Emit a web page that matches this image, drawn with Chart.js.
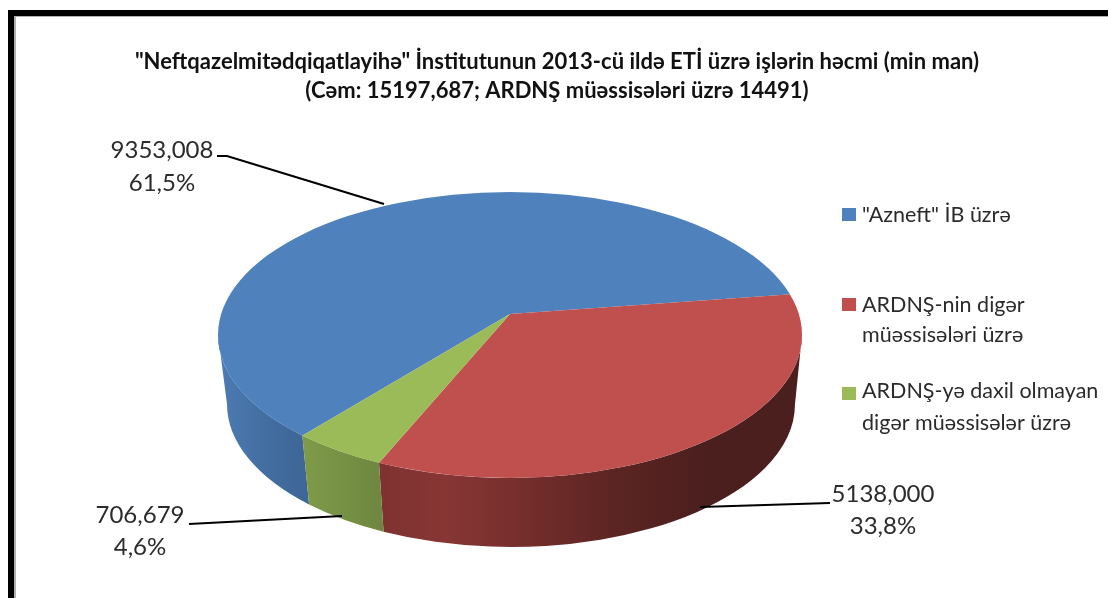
<!DOCTYPE html>
<html>
<head>
<meta charset="utf-8">
<style>
  html, body { margin: 0; padding: 0; background: #fff; }
  #wrap { width: 1108px; height: 598px; position: relative; }
  canvas { filter: blur(0.4px); }
</style>
<script src="https://cdn.jsdelivr.net/npm/chart.js@4"></script>
</head>
<body>
<div id="wrap"><canvas id="pieChart"></canvas></div>
<script>
var categories = ['"Azneft" İB üzrə', 'ARDNŞ-nin digər müəssisələri üzrə', 'ARDNŞ-yə daxil olmayan digər müəssisələr üzrə'];
var values = [9353.008, 5138.000, 706.679];
var titleLines = ['"Neftqazelmitədqiqatlayihə" İnstitutunun 2013-cü ildə ETİ üzrə işlərin həcmi (min man)', '(Cəm: 15197,687; ARDNŞ müəssisələri üzrə 14491)'];
var legendLines = [['"Azneft" İB üzrə'], ['ARDNŞ-nin digər', 'müəssisələri üzrə'], ['ARDNŞ-yə daxil olmayan', 'digər müəssisələr üzrə']];

var colors = ['#4f81bd', '#c0504d', '#9bbb59'];
var sideStops = [
    [[0, '#4c7cb4'], [0.5, '#446fa3'], [1, '#3e6697']],
    [[0, '#7e3230'], [0.15, '#873634'], [0.3, '#7a302e'], [0.55, '#5c2523'], [0.78, '#4a1f1d'], [1, '#4a1f1d']],
    [[0, '#7e9b49'], [1, '#6f8740']]
];
var fontName = 'Lato, Carlito, sans-serif';
var textColor = '#2b2b2b';

// top face and the bottom rim of the pie, the apex sits above the ellipse centre (perspective)
var top3d = { cx: 510, cy: 335, rx: 292, ry: 143 };
var bottom3d = { cx: 511, cy: 404, rx: 284, ry: 143 };
var apex = { x: 510, y: 314 };
var squash = 0.5;
var faceRadius = 345;

var total = values.reduce(function(a, b) { return a + b; }, 0);
var startRotation = 220.5;

function rimParam(angle) {
    var dx = Math.cos(angle), dy = squash * Math.sin(angle);
    var ox = (apex.x - top3d.cx) / top3d.rx, oy = (apex.y - top3d.cy) / top3d.ry;
    var ux = dx / top3d.rx, uy = dy / top3d.ry;
    var a = ux * ux + uy * uy, b = 2 * (ox * ux + oy * uy), c = ox * ox + oy * oy - 1;
    var t = (-b + Math.sqrt(b * b - 4 * a * c)) / (2 * a);
    return Math.atan2(oy + t * uy, ox + t * ux);
}

function drawSides(chart) {
    var ctx = chart.ctx;
    var arcs = chart.getDatasetMeta(0).data;
    arcs.forEach(function(arc, i) {
        var t0 = rimParam(arc.startAngle), t1 = rimParam(arc.endAngle);
        if (t0 < 0) t0 += Math.PI * 2;
        while (t1 < t0) t1 += Math.PI * 2;
        [0, Math.PI * 2].forEach(function(shift) {
            var from = Math.max(t0, shift), to = Math.min(t1, shift + Math.PI);
            if (to <= from) return;
            var x0 = top3d.cx + top3d.rx * Math.cos(from), x1 = top3d.cx + top3d.rx * Math.cos(to);
            var grad = ctx.createLinearGradient(Math.min(x0, x1), 0, Math.max(x0, x1), 0);
            sideStops[i].forEach(function(s) { grad.addColorStop(s[0], s[1]); });
            ctx.beginPath();
            ctx.ellipse(top3d.cx, top3d.cy, top3d.rx, top3d.ry, 0, from, to);
            ctx.ellipse(bottom3d.cx, bottom3d.cy, bottom3d.rx, bottom3d.ry, 0, to, from, true);
            ctx.closePath();
            ctx.fillStyle = grad;
            ctx.fill();
        });
    });
}

var pie3d = {
    id: 'pie3d',
    beforeDraw: function(chart) {
        var ctx = chart.ctx;
        ctx.save();
        ctx.fillStyle = '#fff';
        ctx.fillRect(0, 0, chart.width, chart.height);
        ctx.fillStyle = '#b0b0b0';
        ctx.fillRect(8, 10, chart.width, 7);
        ctx.fillRect(8, 10, 8, chart.height);
        ctx.fillStyle = '#000';
        ctx.fillRect(8, 10, chart.width, 6);
        ctx.fillRect(8, 10, 6, chart.height);
        ctx.restore();
    },
    beforeDatasetsDraw: function(chart) {
        var ctx = chart.ctx;
        var arc = chart.getDatasetMeta(0).data[0];
        drawSides(chart);
        ctx.save();
        ctx.beginPath();
        ctx.ellipse(top3d.cx, top3d.cy, top3d.rx, top3d.ry, 0, 0, Math.PI * 2);
        ctx.clip();
        var s = faceRadius / arc.outerRadius;
        ctx.translate(apex.x, apex.y);
        ctx.scale(s, s * squash);
        ctx.translate(-arc.x, -arc.y);
    },
    afterDatasetsDraw: function(chart) {
        var ctx = chart.ctx;
        ctx.restore();

        // leader lines
        ctx.save();
        ctx.strokeStyle = '#000';
        ctx.lineWidth = 2.2;
        [[[217, 156], [227, 156], [384, 204]], [[830, 503], [700, 507]], [[189, 524], [342, 516]]].forEach(function(line) {
            ctx.beginPath();
            line.forEach(function(p, k) { k ? ctx.lineTo(p[0], p[1]) : ctx.moveTo(p[0], p[1]); });
            ctx.stroke();
        });

        // data labels
        ctx.font = '24px ' + fontName;
        ctx.fillStyle = textColor;
        ctx.textAlign = 'center';
        [[162, 158, 191], [883, 502, 534], [140, 523, 555]].forEach(function(pos, i) {
            ctx.fillText(values[i].toFixed(3).replace('.', ','), pos[0], pos[1]);
            ctx.fillText((values[i] / total * 100).toFixed(1).replace('.', ',') + '%', pos[0], pos[2]);
        });

        // legend
        ctx.textAlign = 'left';
        ctx.font = '21.5px ' + fontName;
        [[208, [222]], [298, [312, 342]], [387, [398, 430]]].forEach(function(pos, i) {
            ctx.fillStyle = colors[i];
            ctx.fillRect(842, pos[0], 14, 13);
            ctx.fillStyle = textColor;
            legendLines[i].forEach(function(line, k) {
                ctx.fillText(line, 862, pos[1][k]);
            });
        });
        ctx.restore();
    }
};

var ctx = document.getElementById('pieChart').getContext('2d');

var myChart = new Chart(ctx, {
    type: 'pie',
    data: {
        labels: categories,
        datasets: [{
            data: values,
            backgroundColor: colors,
            borderWidth: 0
        }]
    },
    options: {
        responsive: true,
        maintainAspectRatio: false,
        animation: false,
        events: [],
        rotation: startRotation,
        layout: { padding: { left: 6, top: 47 } },
        plugins: {
            legend: { display: false },
            tooltip: { enabled: false },
            title: {
                display: true,
                text: titleLines,
                color: '#111',
                font: { family: fontName, size: 22, weight: 'bold', lineHeight: 1.32 },
                padding: 0
            }
        }
    },
    plugins: [pie3d]
});
</script>
</body>
</html>
